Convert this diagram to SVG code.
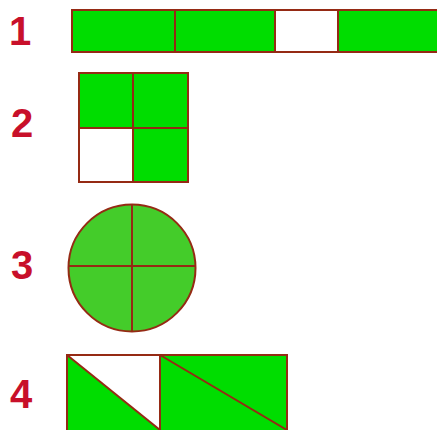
<svg xmlns="http://www.w3.org/2000/svg" width="437" height="430" viewBox="0 0 437 430">
<style>
.lbl{font-family:"Liberation Sans",Arial,sans-serif;font-weight:bold;font-size:40px;fill:#c8102a}
.g{fill:#00dd00}
.w{fill:#ffffff}
.ln{stroke:#952a14;stroke-width:2;fill:none}
</style>
<rect width="437" height="430" fill="#ffffff"/>
<g id="fig1">
<text class="lbl" x="9" y="45">1</text>
<rect class="g" x="72" y="10" width="370" height="42"/>
<rect class="w" x="275" y="10" width="63" height="42"/>
<rect class="ln" x="72" y="10" width="370" height="42"/>
<line class="ln" x1="175" y1="10" x2="175" y2="52"/>
<line class="ln" x1="275" y1="10" x2="275" y2="52"/>
<line class="ln" x1="338" y1="10" x2="338" y2="52"/>
</g>
<g id="fig2">
<text class="lbl" x="11" y="137">2</text>
<rect class="g" x="79" y="73" width="109" height="109"/>
<rect class="w" x="79" y="128" width="54" height="54"/>
<rect class="ln" x="79" y="73" width="109" height="109"/>
<line class="ln" x1="133" y1="73" x2="133" y2="182"/>
<line class="ln" x1="79" y1="128" x2="188" y2="128"/>
</g>
<g id="fig3">
<text class="lbl" x="11" y="279">3</text>
<circle cx="132" cy="268" r="63.5" fill="#44cc2a" stroke="#952a14" stroke-width="2"/>
<line class="ln" x1="132" y1="204" x2="132" y2="332"/>
<line class="ln" x1="68" y1="266" x2="196" y2="266"/>
</g>
<g id="fig4">
<text class="lbl" x="10" y="408">4</text>
<rect class="g" x="67" y="355" width="220" height="80"/>
<polygon class="w" points="67,355 160,355 160,430"/>
<rect class="ln" x="67" y="355" width="220" height="80"/>
<line class="ln" x1="160" y1="355" x2="160" y2="432"/>
<line class="ln" x1="67" y1="355" x2="160" y2="430"/>
<line class="ln" x1="160" y1="355" x2="287" y2="430"/>
</g>
</svg>
